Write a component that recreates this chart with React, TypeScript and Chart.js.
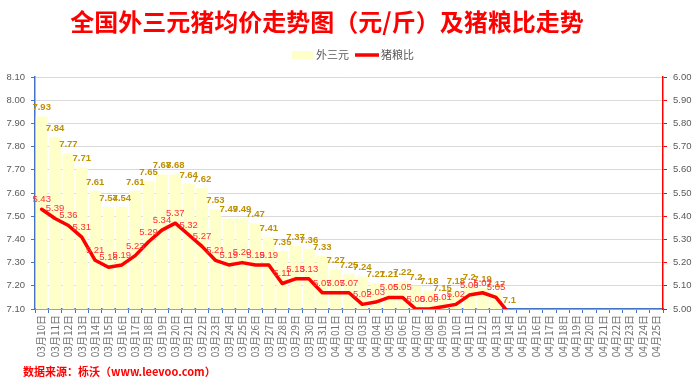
import React, { useEffect, useRef } from "react";
import { Chart, registerables } from "chart.js";

Chart.register(...registerables);

const TITLE = "全国外三元猪均价走势图（元/斤）及猪粮比走势";
const FOOTER = "数据来源：栎沃（www.leevoo.com）";
const SERIES_BAR = "外三元";
const SERIES_LINE = "猪粮比";

const categories: string[] = [
  "03月10日", "03月11日", "03月12日", "03月13日", "03月14日", "03月15日", "03月16日",
  "03月17日", "03月18日", "03月19日", "03月20日", "03月21日", "03月22日", "03月23日",
  "03月24日", "03月25日", "03月26日", "03月27日", "03月28日", "03月29日", "03月30日",
  "03月31日", "04月01日", "04月02日", "04月03日", "04月04日", "04月05日", "04月06日",
  "04月07日", "04月08日", "04月09日", "04月10日", "04月11日", "04月12日", "04月13日",
  "04月14日", "04月15日", "04月16日", "04月17日", "04月18日", "04月19日", "04月20日",
  "04月21日", "04月22日", "04月23日", "04月24日", "04月25日",
];

const priceValues: (number | null)[] = [
  7.93, 7.84, 7.77, 7.71, 7.61, 7.54, 7.54,
  7.61, 7.65, 7.68, 7.68, 7.64, 7.62, 7.53,
  7.49, 7.49, 7.47, 7.41, 7.35, 7.37, 7.36,
  7.33, 7.27, 7.25, 7.24, 7.21, 7.21, 7.22,
  7.2, 7.18, 7.15, 7.18, 7.2, 7.19, 7.17,
  7.1, null, null, null, null, null, null,
  null, null, null, null, null,
];

const ratioValues: (number | null)[] = [
  5.43, 5.39, 5.36, 5.31, 5.21, 5.18, 5.19,
  5.23, 5.29, 5.34, 5.37, 5.32, 5.27, 5.21,
  5.19, 5.2, 5.19, 5.19, 5.11, 5.13, 5.13,
  5.07, 5.07, 5.07, 5.02, 5.03, 5.05, 5.05,
  5.0, 5.0, 5.01, 5.02, 5.06, 5.07, 5.05,
  4.98, null, null, null, null, null, null,
  null, null, null, null, null,
];

const leftTicks = { min: 7.1, max: 8.1, step: 0.1 };
const rightTicks = { min: 5.0, max: 6.0, step: 0.1 };

const BAR_COLOR = "#FFFFC9";
const LINE_COLOR = "#FF0000";
const BAR_LABEL_COLOR = "#BF9000";
const LINE_LABEL_COLOR = "#FF3030";
const AXIS_TEXT = "#595959";
const NUM_FONT = '"Liberation Sans", Arial, sans-serif';
const CJK_FONT = '"Noto Sans CJK SC", sans-serif';

const overlayPlugin = {
  id: "overlayText",
  afterDatasetsDraw(chart: any) {
    const ctx = chart.ctx;
    ctx.save();
    ctx.textAlign = "center";
    ctx.textBaseline = "bottom";
    const barMeta = chart.getDatasetMeta(0);
    ctx.font = `bold 9.5px ${NUM_FONT}`;
    ctx.fillStyle = BAR_LABEL_COLOR;
    barMeta.data.forEach((el: any, i: number) => {
      const v = priceValues[i];
      if (v == null) return;
      ctx.fillText(String(v), el.x, el.y - 4);
    });
    const lineMeta = chart.getDatasetMeta(1);
    ctx.font = `9.5px ${NUM_FONT}`;
    ctx.fillStyle = LINE_LABEL_COLOR;
    lineMeta.data.forEach((el: any, i: number) => {
      const v = ratioValues[i];
      if (v == null || v < rightTicks.min) return;
      ctx.fillText(v.toFixed(2), el.x, el.y - 5);
    });
    ctx.restore();
  },
  afterDraw(chart: any) {
    const ctx = chart.ctx;
    ctx.save();
    // title
    ctx.fillStyle = "#FF0000";
    ctx.textAlign = "center";
    ctx.textBaseline = "middle";
    ctx.font = `bold 24px ${CJK_FONT}`;
    ctx.fillText(TITLE, 327, 22);
    // legend
    ctx.fillStyle = BAR_COLOR;
    ctx.fillRect(292, 51, 21, 8);
    ctx.font = `11px ${CJK_FONT}`;
    ctx.textAlign = "left";
    ctx.fillStyle = AXIS_TEXT;
    ctx.fillText(SERIES_BAR, 316, 55);
    ctx.strokeStyle = LINE_COLOR;
    ctx.lineWidth = 3.5;
    ctx.beginPath();
    ctx.moveTo(355, 55);
    ctx.lineTo(379, 55);
    ctx.stroke();
    ctx.fillText(SERIES_LINE, 381, 55);
    // footer
    ctx.fillStyle = "#FF0000";
    ctx.font = `bold 11px ${CJK_FONT}`;
    ctx.fillText(FOOTER, 23, 372);
    ctx.restore();
  },
};

export default function App() {
  const ref = useRef<HTMLCanvasElement | null>(null);

  useEffect(() => {
    document.body.style.margin = "0";
    if (!ref.current) return;
    const chart = new Chart(ref.current, {
      type: "bar",
      data: {
        labels: categories,
        datasets: [
          {
            type: "bar",
            label: SERIES_BAR,
            data: priceValues,
            backgroundColor: BAR_COLOR,
            borderWidth: 0,
            barPercentage: 0.88,
            categoryPercentage: 1,
            yAxisID: "y",
            order: 2,
          } as any,
          {
            type: "line",
            label: SERIES_LINE,
            data: ratioValues,
            borderColor: LINE_COLOR,
            backgroundColor: LINE_COLOR,
            borderWidth: 3.5,
            pointRadius: 0,
            tension: 0,
            borderJoinStyle: "round",
            borderCapStyle: "round",
            clip: 0,
            yAxisID: "y1",
            order: 1,
          } as any,
        ],
      },
      options: {
        responsive: false,
        animation: false,
        devicePixelRatio: 1,
        layout: { padding: { top: 77, bottom: 27, left: 0, right: 0 } },
        plugins: {
          title: { display: false },
          tooltip: { enabled: false },
          legend: { display: false },
        },
        scales: {
          x: {
            offset: true,
            grid: {
              display: true,
              drawOnChartArea: false,
              drawTicks: true,
              tickLength: 4,
              color: "#4472C4",
              tickColor: "#4472C4",
            },
            border: { display: true, color: "#4472C4", width: 1.5 },
            ticks: {
              autoSkip: false,
              maxRotation: 90,
              minRotation: 90,
              color: "#6E6E6E",
              padding: 2,
              font: { size: 10, family: CJK_FONT },
            },
            afterFit: (s: any) => {
              s.height = 52;
            },
          },
          y: {
            position: "left",
            min: leftTicks.min,
            max: leftTicks.max,
            grid: {
              color: "#D9D9D9",
              lineWidth: 1,
              tickColor: "#4472C4",
              tickLength: 4,
            },
            border: { display: true, color: "#4472C4", width: 1.5 },
            ticks: {
              stepSize: leftTicks.step,
              color: AXIS_TEXT,
              padding: 6,
              font: { size: 9.5, family: NUM_FONT },
              callback: (v: any) => Number(v).toFixed(2),
            },
            afterFit: (s: any) => {
              s.width = 35;
            },
          },
          y1: {
            position: "right",
            min: rightTicks.min,
            max: rightTicks.max,
            grid: {
              drawOnChartArea: false,
              tickColor: "#FF0000",
              tickLength: 4,
            },
            border: { display: true, color: "#FF0000", width: 1.5 },
            ticks: {
              stepSize: rightTicks.step,
              color: AXIS_TEXT,
              padding: 6,
              font: { size: 9.5, family: NUM_FONT },
              callback: (v: any) => Number(v).toFixed(2),
            },
            afterFit: (s: any) => {
              s.width = 37;
            },
          },
        },
      },
      plugins: [overlayPlugin],
    });
    return () => chart.destroy();
  }, []);

  return (
    <div style={{ width: 700, height: 388, background: "#fff" }}>
      <canvas ref={ref} width={700} height={388} style={{ display: "block" }} />
    </div>
  );
}
